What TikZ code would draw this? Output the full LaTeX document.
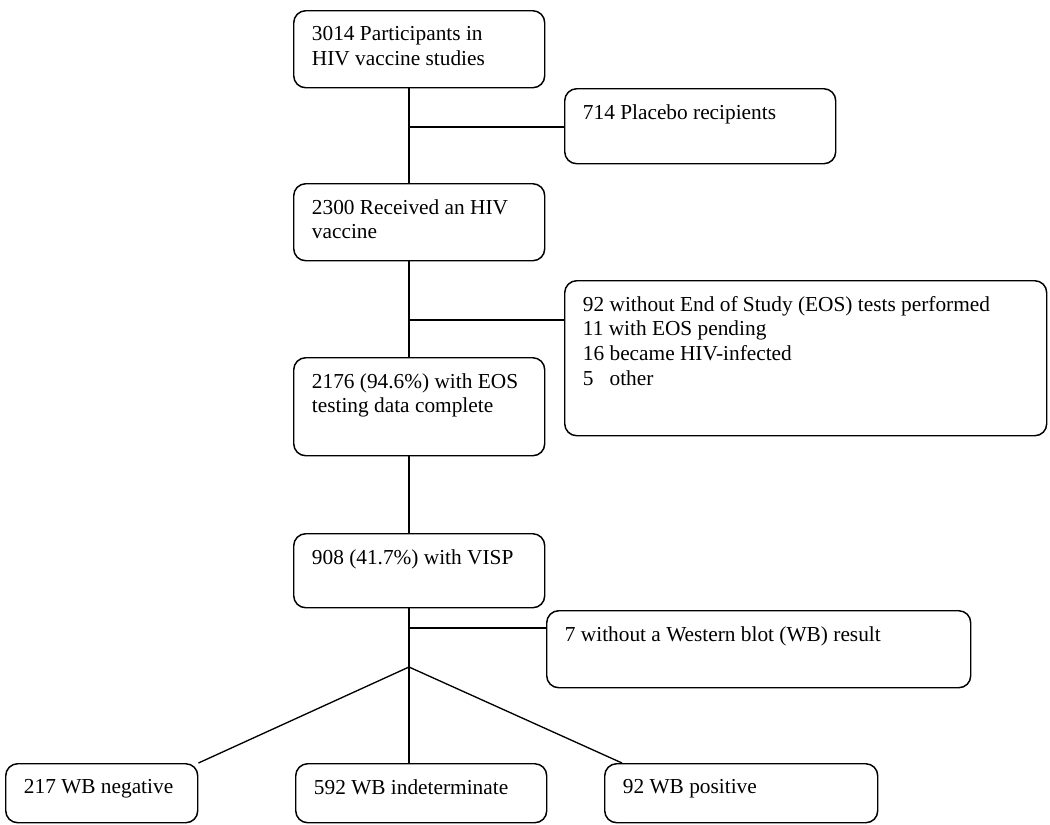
\documentclass[tikz,border=0pt]{standalone}
\usepackage{fontspec}
\setmainfont{Liberation Serif}
\tikzset{
  box/.style={draw, line width=1.1pt, rounded corners=9pt, anchor=north west, inner sep=0pt},
  lbl/.style={anchor=north west, align=left, inner xsep=14pt, inner ysep=12pt, font=\fontsize{16}{18.5}\selectfont},
  link/.style={line width=1pt}
}
\begin{document}
\begin{tikzpicture}[x=0.75pt, y=-0.75pt]
    \useasboundingbox (0,0) rectangle (1050,825);
    \node [box, minimum width=188.25pt, minimum height=57.75pt, label={[lbl]north west:3014 Participants in\\HIV vaccine studies}] (b1) at (293,10) {};
    \node [box, minimum width=203.25pt, minimum height=56.25pt, label={[lbl]north west:714 Placebo recipients}] (b2) at (564,88) {};
    \node [box, minimum width=188.25pt, minimum height=57.75pt, label={[lbl]north west:2300 Received an HIV\\vaccine}] (b3) at (293,183) {};
    \node [box, minimum width=361.5pt, minimum height=116.25pt, label={[lbl]north west:92 without End of Study (EOS) tests performed\\11 with EOS pending\\16 became HIV-infected\\5\ \ \ other}] (b4) at (564,280) {};
    \node [box, minimum width=188.25pt, minimum height=73.5pt, label={[lbl]north west:2176 (94.6\%) with EOS\\testing data complete}] (b5) at (293,357) {};
    \node [box, minimum width=188.25pt, minimum height=55.5pt, label={[lbl]north west:908 (41.7\%) with VISP}] (b6) at (293,533) {};
    \node [box, minimum width=318pt, minimum height=57.75pt, label={[lbl]north west:7 without a Western blot (WB) result}] (b7) at (546,610) {};
    \node [box, minimum width=144pt, minimum height=44.25pt, label={[lbl]north west:217 WB negative}] (b8) at (5,763) {};
    \node [box, minimum width=188.25pt, minimum height=44.25pt, label={[lbl]north west:592 WB indeterminate}] (b9) at (295,763) {};
    \node [box, minimum width=204.75pt, minimum height=44.25pt, label={[lbl]north west:92 WB positive}] (b10) at (604,763) {};
    \coordinate (t1) at (409,127);
    \coordinate (t2) at (409,320);
    \coordinate (t3) at (409,628);
    \coordinate (j) at (409,667);
    \draw [link] (b1.south -| t1) -- (b3.north -| t1);
    \draw [link] (t1) -- (t1 -| b2.west);
    \draw [link] (b3.south -| t1) -- (b5.north -| t1);
    \draw [link] (t2) -- (t2 -| b4.west);
    \draw [link] (b5.south -| t1) -- (b6.north -| t1);
    \draw [link] (b6.south -| t1) -- (j);
    \draw [link] (t3) -- (t3 -| b7.west);
    \draw [link] (j) -- (b8.north east);
    \draw [link] (j) -- (j |- b9.north);
    \draw [link] (j) -- ([xshift=13.5pt]b10.north west);
\end{tikzpicture}
\end{document}
